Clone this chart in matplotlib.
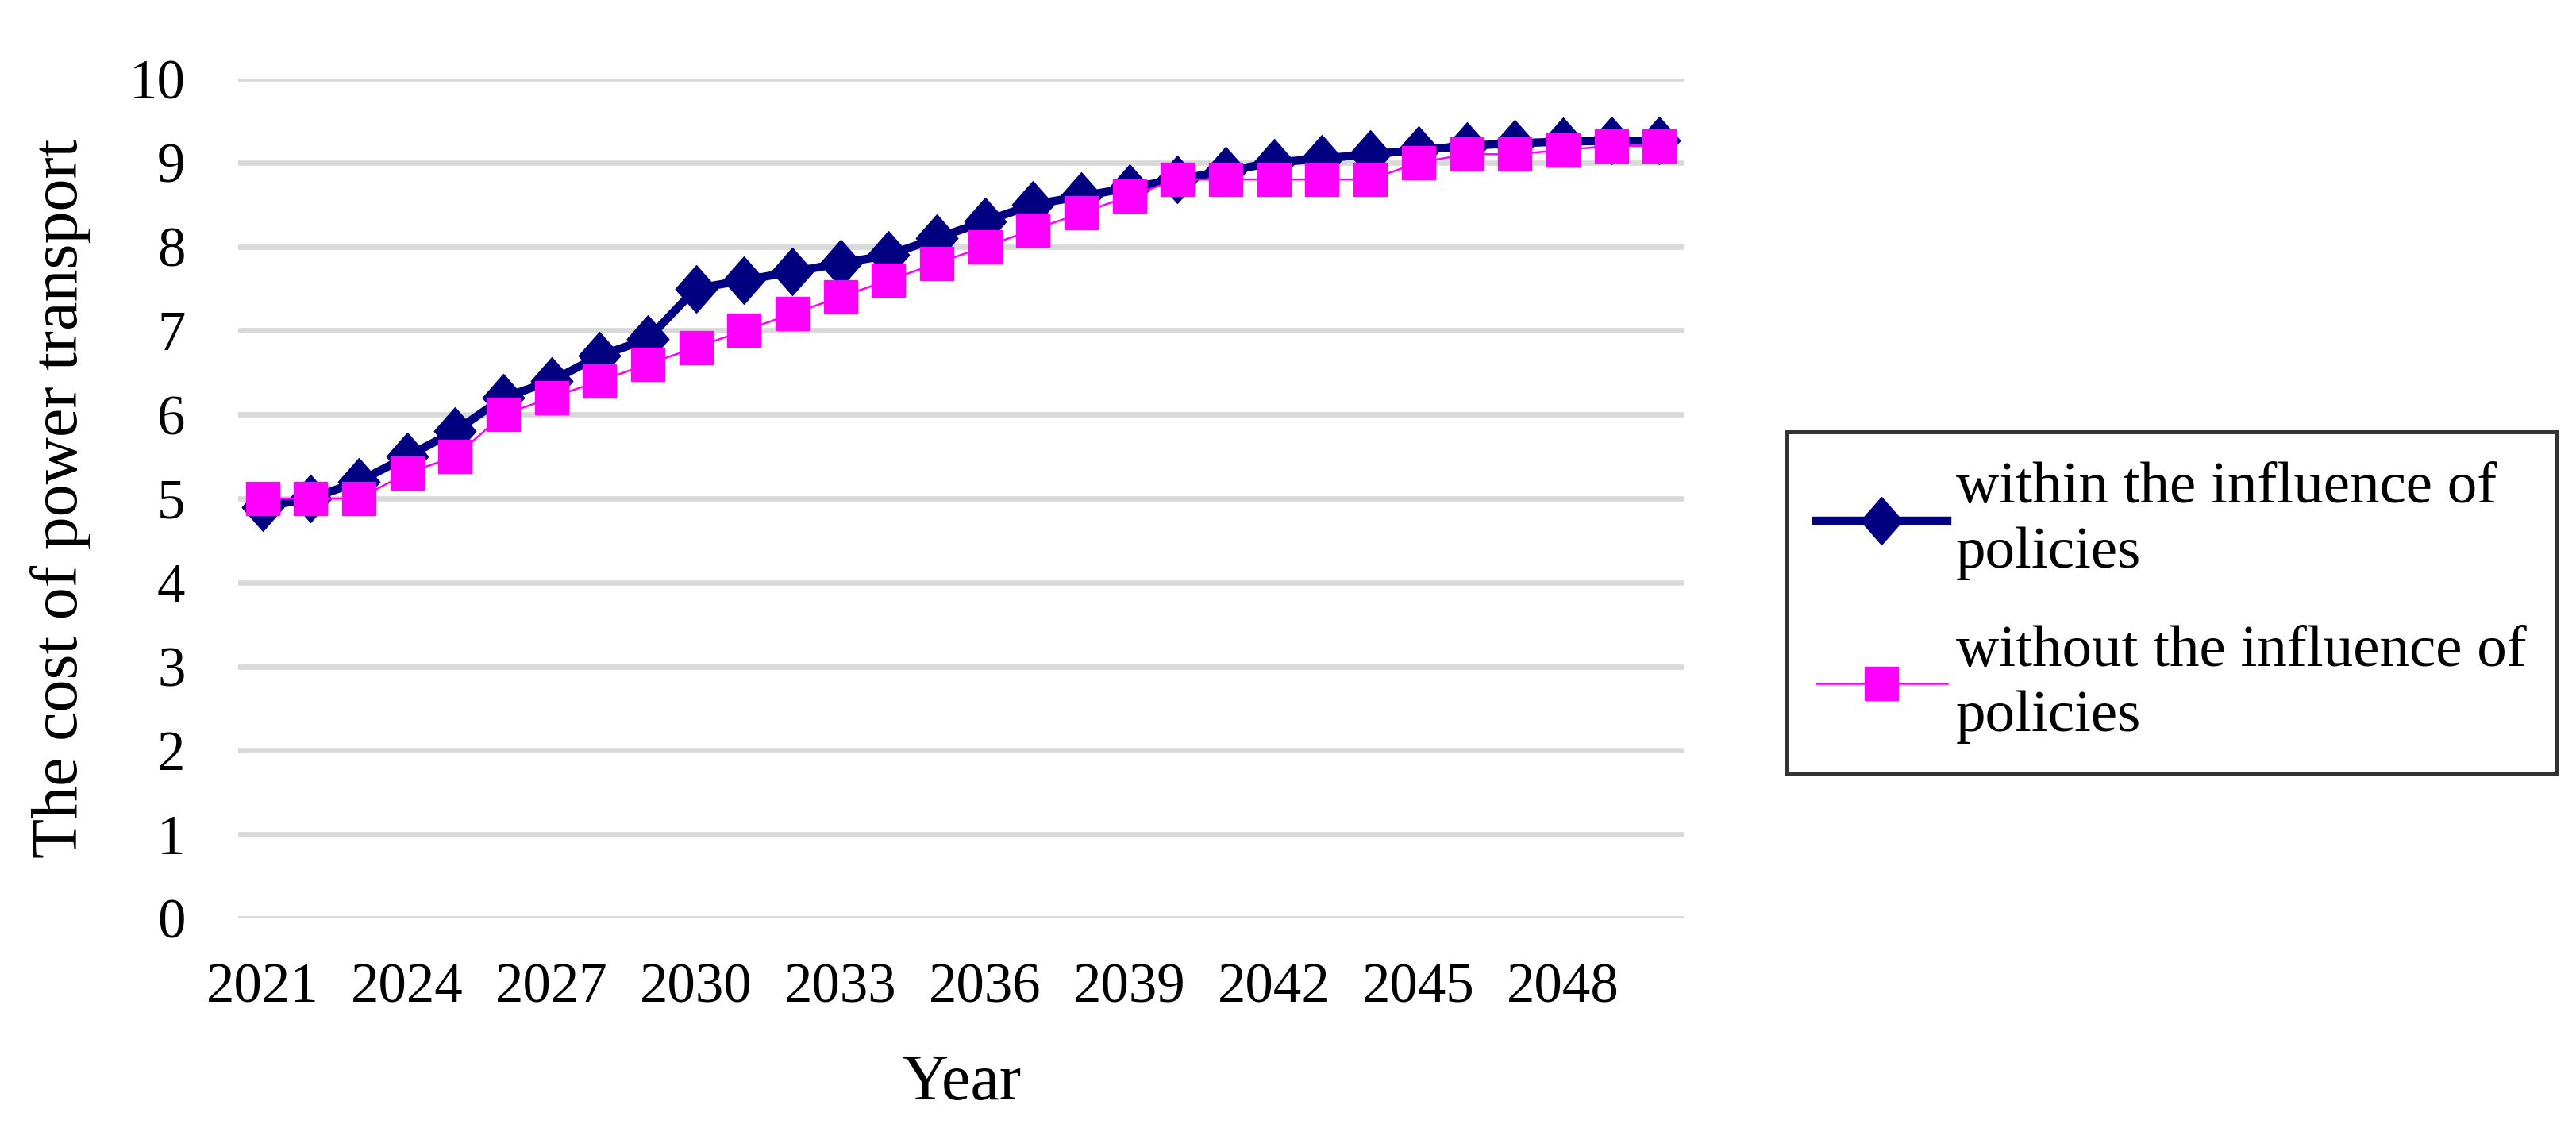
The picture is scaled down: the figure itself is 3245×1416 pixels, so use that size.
import numpy as np
import matplotlib.pyplot as plt
from matplotlib.path import Path

plt.rcParams['font.family'] = ['Liberation Serif', 'DejaVu Serif']

# data
years = list(range(2021, 2051))
with_policy = [4.9, 5.0, 5.2, 5.5, 5.8, 6.2, 6.4, 6.7, 6.9, 7.5,
               7.6, 7.7, 7.8, 7.9, 8.1, 8.3, 8.5, 8.6, 8.7, 8.8,
               8.9, 9.0, 9.05, 9.1, 9.15, 9.2, 9.23, 9.25, 9.26, 9.26]
without_policy = [5.0, 5.0, 5.0, 5.3, 5.5, 6.0, 6.2, 6.4, 6.6, 6.8,
                  7.0, 7.2, 7.4, 7.6, 7.8, 8.0, 8.2, 8.4, 8.6, 8.8,
                  8.8, 8.8, 8.8, 8.8, 9.0, 9.1, 9.1, 9.15, 9.2, 9.2]
tick_years = [str(y) for y in years[::3]]
labels = ['within the influence of\npolicies', 'without the influence of\npolicies']

tick_fs = 51
title_fs = 59
legend_fs = 54

# slightly tall diamond like the Excel marker
diamond = Path([(0, 1), (0.88, 0), (0, -1), (-0.88, 0), (0, 1)],
               [Path.MOVETO, Path.LINETO, Path.LINETO, Path.LINETO, Path.CLOSEPOLY])

fig = plt.figure(figsize=(32.45, 14.16), dpi=100)
ax = fig.add_axes([0.0925, 0.183, 0.561, 0.747])

x = np.arange(len(years))
ax.plot(x, with_policy, color='#000080', linewidth=7.5, marker=diamond,
        markersize=43, label=labels[0], zorder=3)
ax.plot(x, without_policy, color='#FF00FF', linewidth=1.8, marker='s',
        markersize=30, label=labels[1], zorder=4)

ax.set_xlim(-0.5, len(years) - 0.5)
ax.set_ylim(0, 10)
ax.set_yticks(range(0, 11))
ax.set_xticks(x[::3])
ax.set_xticklabels(tick_years)
ax.tick_params(axis='both', length=0, labelsize=tick_fs)
ax.tick_params(axis='y', pad=48)
ax.tick_params(axis='x', pad=40)
ax.grid(axis='y', color='#D9D9D9', linewidth=4.8)
ax.set_axisbelow(True)
for s in ax.spines.values():
    s.set_visible(False)

ax.set_xlabel('Year', fontsize=title_fs, labelpad=36)
ax.set_ylabel('The cost of power transport', fontsize=title_fs, labelpad=34)

leg = fig.legend(loc='upper left', bbox_to_anchor=(0.6934, 0.6158),
                 borderaxespad=0, fontsize=legend_fs, frameon=True,
                 fancybox=False, handlelength=2.2, handletextpad=0.15,
                 labelspacing=0.75, borderpad=0.5)
for t in leg.get_texts():
    t.set_linespacing(1.28)
leg.get_frame().set_edgecolor('black')
leg.get_frame().set_linewidth(3.6)

fig.savefig('out.png', dpi=100)
